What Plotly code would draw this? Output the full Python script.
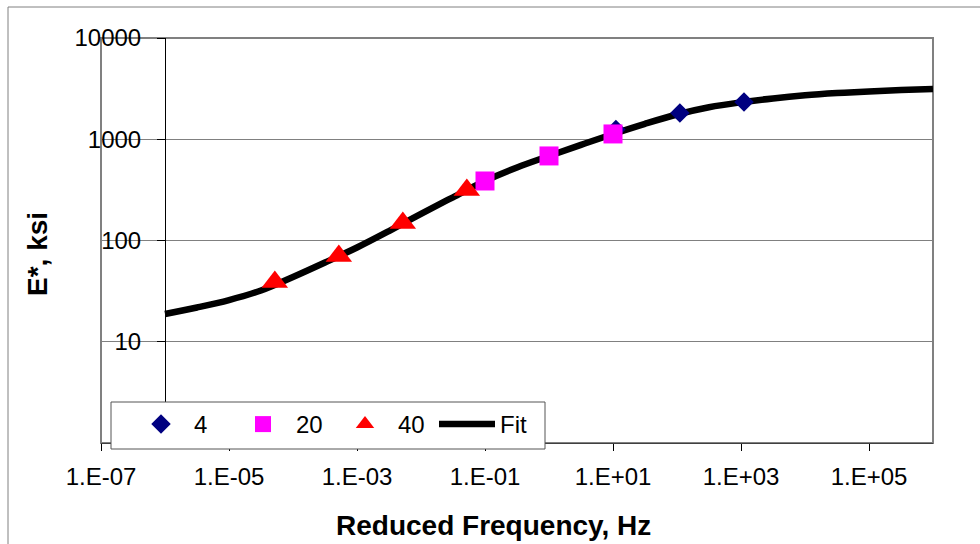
import plotly.graph_objects as go

# ---- data ----
x_4 = [11.1, 111, 1114]
y_4 = [1250, 1815, 2334]

x_20 = [0.1, 1, 10]
y_20 = [387, 684, 1128]

x_40 = [5.2e-5, 5.2e-4, 5.2e-3, 5.2e-2]
y_40 = [38.9, 70.3, 149, 316]

fit_x = [1e-6, 3.16e-6, 1e-5, 3.16e-5, 1e-4, 3.16e-4, 1e-3, 3.16e-3, 1e-2, 3.16e-2,
         1e-1, 3.16e-1, 1, 3.16, 10, 31.6, 100, 316, 1000, 3160, 1e4, 3.16e4, 1e5, 3.16e5, 1e6]
fit_y = [18.8, 21.8, 25.8, 32.1, 43.6, 60.6, 85.3, 124.1, 183.5, 267.2,
         387, 526, 683, 881, 1127, 1421, 1755, 2069, 2317, 2532, 2717, 2857, 2969, 3058, 3136]

x_tickvals = [1e-7, 1e-5, 1e-3, 1e-1, 1e1, 1e3, 1e5]
x_ticktext = ["1.E-07", "1.E-05", "1.E-03", "1.E-01", "1.E+01", "1.E+03", "1.E+05"]
y_tickvals = [1, 10, 100, 1000, 10000]
y_ticktext = ["", "10", "100", "1000", "10000"]

FONT = "Liberation Sans, Arial, sans-serif"

W, H = 980, 544
L, R, T, B = 101, 933, 38, 443


def px(xp):
    return (xp - L) / (R - L)


def py(yp):
    return (B - yp) / (B - T)


fig = go.Figure()

fig.add_trace(go.Scatter(x=fit_x, y=fit_y, mode="lines", name="Fit",
                         line=dict(color="black", width=6.5, shape="spline"),
                         legendrank=4))
fig.add_trace(go.Scatter(x=x_4, y=y_4, mode="markers", name="4",
                         marker=dict(symbol="diamond", size=15, color="#000080"),
                         legendrank=1))
fig.add_trace(go.Scatter(x=x_20, y=y_20, mode="markers", name="20",
                         marker=dict(symbol="square", size=19, color="#FF00FF"),
                         legendrank=2))
fig.add_trace(go.Scatter(x=x_40, y=y_40, mode="markers", name="40",
                         marker=dict(symbol="triangle-up", size=23, color="#FF0000"),
                         legendrank=3))

fig.update_layout(
    width=W, height=H,
    margin=dict(l=L, r=W - R, t=T, b=H - B, pad=0),
    paper_bgcolor="white", plot_bgcolor="white",
    font=dict(family=FONT, size=24, color="black"),
    showlegend=True,
    legend=dict(orientation="h", x=px(128), y=py(402), xanchor="left", yanchor="top",
                bgcolor="rgba(0,0,0,0)", borderwidth=0,
                font=dict(size=24), itemwidth=56, entrywidth=31,
                entrywidthmode="pixels", traceorder="normal"),
    xaxis=dict(type="log", range=[-7, 6], tickvals=x_tickvals, ticktext=x_ticktext,
               ticks="outside", ticklen=7, tickcolor="black", showgrid=False,
               showline=True, linecolor="#404040", linewidth=1, zeroline=False,
               tickfont=dict(size=24), ticklabelstandoff=5, automargin=False),
    yaxis=dict(type="log", range=[0, 4], tickvals=y_tickvals, ticktext=y_ticktext,
               anchor="free", position=px(165),
               ticks="outside", ticklen=8, tickcolor="black",
               showline=True, linecolor="black", linewidth=1,
               showgrid=True, gridcolor="#808080", gridwidth=1,
               zeroline=False, tickfont=dict(size=24), ticklabelstandoff=11,
               automargin=False),
)

# plot-area frame (gray) and outer chart border
fig.add_shape(type="rect", xref="paper", yref="paper", x0=0, x1=1, y0=0, y1=1,
              line=dict(color="#808080", width=2), layer="below")
fig.add_shape(type="rect", xref="paper", yref="paper", x0=px(8), x1=px(1000),
              y0=py(560), y1=py(7), line=dict(color="#808080", width=1), layer="below")
# legend box
fig.add_shape(type="rect", xref="paper", yref="paper", x0=px(111), x1=px(545),
              y0=py(449), y1=py(402), fillcolor="white",
              line=dict(color="#555555", width=1), layer="above")

fig.add_annotation(text="E*, ksi", xref="paper", yref="paper", x=px(37), y=py(254),
                   textangle=-90, showarrow=False, xanchor="center", yanchor="middle",
                   font=dict(family=FONT, size=28, weight="bold"))
fig.add_annotation(text="Reduced Frequency, Hz", xref="paper", yref="paper",
                   x=px(493), y=py(525), showarrow=False, xanchor="center",
                   yanchor="middle", font=dict(family=FONT, size=28, weight="bold"))

fig.write_html("out.html")
